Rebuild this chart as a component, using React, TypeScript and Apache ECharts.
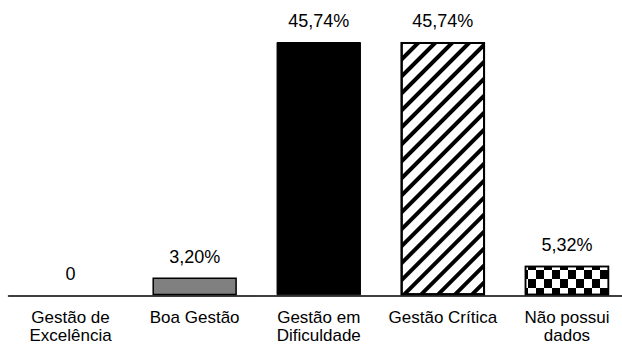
import React, { useEffect, useRef } from "react";
import * as echarts from "echarts";

// Category names (line breaks as printed under the axis)
const categories = [
  "Gestão de\nExcelência",
  "Boa Gestão",
  "Gestão em\nDificuldade",
  "Gestão Crítica",
  "Não possui\ndados",
];

// Share of each management class, in percent
const values = [0, 3.2, 45.74, 45.74, 5.32];

const FONT = "'Liberation Sans', Arial, Helvetica, sans-serif";

const formatPct = (v: number) =>
  v === 0 ? "0" : v.toFixed(2).replace(".", ",") + "%";

// Fill style for each bar: none, grey, solid black, diagonal stripes, checkerboard
const barStyles: any[] = [
  { color: "transparent", borderWidth: 0 },
  { color: "#808080", borderColor: "#000", borderWidth: 1.5 },
  { color: "#000", borderColor: "#000", borderWidth: 1 },
  {
    color: "#fff",
    borderColor: "#000",
    borderWidth: 2,
    decal: {
      symbol: "rect",
      symbolSize: 1,
      color: "#000",
      backgroundColor: "#fff",
      dashArrayX: [1, 0],
      dashArrayY: [4, 8],
      rotation: -Math.PI / 4,
    },
  },
  {
    color: "#fff",
    borderColor: "#000",
    borderWidth: 1.5,
    decal: {
      symbol: "rect",
      symbolSize: 1,
      color: "#000",
      backgroundColor: "#fff",
      dashArrayX: [
        [8, 8],
        [0, 8, 8, 0],
      ],
      dashArrayY: [9, 0],
      rotation: 0,
    },
  },
];

// First line gets a tall line box, the second a tight one so it stays inside the frame
const labelLines = (name: string) =>
  name
    .split("\n")
    .map((s, i) => `{${i === 0 ? "l1" : "l2"}|${s}}`)
    .join("\n");

export default function App() {
  const ref = useRef<HTMLDivElement>(null);

  useEffect(() => {
    if (!ref.current) return;
    const chart = echarts.init(ref.current, undefined, { renderer: "svg" });
    chart.setOption({
      animation: false,
      backgroundColor: "#fff",
      // the plot runs a few pixels past the right edge of the frame
      grid: {
        left: 8.5,
        width: 620.5,
        top: 42,
        bottom: 50.7,
        outerBoundsMode: "none",
      },
      xAxis: {
        type: "category",
        data: categories,
        axisLine: { show: true, lineStyle: { color: "#000", width: 1.5 } },
        axisTick: { show: false },
        axisLabel: {
          interval: 0,
          margin: 9,
          color: "#000",
          fontFamily: FONT,
          fontSize: 17,
          formatter: labelLines,
          rich: {
            l1: { fontFamily: FONT, fontSize: 17, color: "#000", lineHeight: 27 },
            l2: { fontFamily: FONT, fontSize: 17, color: "#000", lineHeight: 9 },
          },
        },
      },
      yAxis: {
        type: "value",
        min: 0,
        max: 45.74,
        show: false,
        splitLine: { show: false },
      },
      series: [
        {
          type: "bar",
          barCategoryGap: "32%",
          data: values.map((v, i) => ({ value: v, itemStyle: barStyles[i] })),
          label: {
            show: true,
            position: "top",
            distance: 12,
            color: "#000",
            fontFamily: FONT,
            fontSize: 18,
            formatter: (p: any) => formatPct(p.value),
          },
        },
      ],
    });
    return () => chart.dispose();
  }, []);

  return (
    <div
      style={{
        position: "absolute",
        left: 0,
        top: 0,
        width: 622,
        height: 346,
        overflow: "hidden",
        background: "#fff",
      }}
    >
      <div ref={ref} style={{ width: 630, height: 346 }} />
    </div>
  );
}
